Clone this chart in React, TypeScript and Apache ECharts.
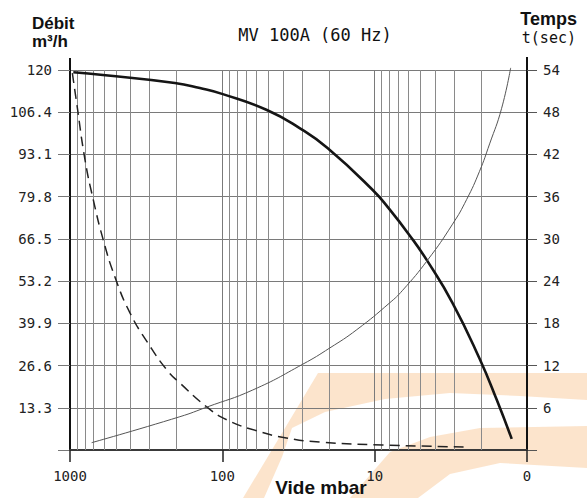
import React, { useEffect, useRef } from "react";
import * as echarts from "echarts";

// Pressure (mbar) minor grid lines on the log axis
const xMinorLines = [2, 3, 4, 5, 6, 7, 8, 9, 20, 30, 40, 50, 60, 70, 80, 90, 200, 300, 400, 500, 600, 700, 800, 900];

// Débit (m3/h) – thick solid curve
const debitP = [951, 608, 205, 140.5, 99.3, 51, 31.1, 20.4, 10.3, 7.98, 5.89, 4.49, 3.08, 2.05, 1.58, 1.26];
const debitQ = [119.0, 118.1, 115.6, 114.0, 112.1, 107.1, 101.4, 95.1, 81.9, 75.8, 67.6, 59.4, 46.3, 28.8, 15.8, 3.5];

// dashed curve (left axis)
const dashP = [965, 904, 797, 703, 605, 507, 404, 308, 231, 190, 126, 93, 59, 38, 23, 8.9, 2.5];
const dashQ = [118.7, 109.3, 91.4, 78.8, 66.2, 54.5, 43.2, 33.7, 25.2, 21.1, 13.5, 9.45, 6.0, 3.8, 2.5, 1.6, 0.95];

// Temps (sec) – thin curve, right axis
const tempsP = [721, 190, 126, 63.1, 29.6, 19.7, 13.1, 7.98, 6.55, 4.49, 3.08, 2.49, 2.05, 1.76, 1.47, 1.28];
const tempsT = [1.04, 4.73, 6.11, 8.53, 12.2, 14.5, 17.1, 20.9, 22.7, 27.0, 32.1, 35.6, 39.6, 43.5, 48.5, 54.3];

// Axis tick settings
const leftMax = 119.7;
const leftInterval = 13.3;
const rightMax = 54;
const rightInterval = 6;

const MONO = "'DejaVu Sans Mono', 'Liberation Mono', monospace";
const SANS = "'Liberation Sans', Arial, sans-serif";

function zip(a: number[], b: number[]) {
  return a.map((v, i) => [v, b[i]]);
}

export default function App() {
  const ref = useRef<HTMLDivElement>(null);

  useEffect(() => {
    if (!ref.current) return;
    const chart = echarts.init(ref.current, null, { renderer: "svg" });
    const wm = "#f8b97a";
    const wmOpacity = 0.38;
    const option: any = {
      animation: false,
      backgroundColor: "#ffffff",
      title: {
        text: "MV 100A (60 Hz)",
        left: 310,
        top: 21,
        textAlign: "center",
        textStyle: { fontFamily: MONO, fontSize: 17, fontWeight: "normal", color: "#111" },
      },
      grid: { left: 70, right: 60, top: 70, bottom: 48, containLabel: false },
      xAxis: {
        type: "log",
        logBase: 10,
        min: 1,
        max: 1000,
        inverse: true,
        z: 2,
        axisLine: { show: true, onZero: false, lineStyle: { color: "#3a3a3a", width: 2 } },
        axisTick: { show: true, length: 12, lineStyle: { color: "#222", width: 1.5 } },
        axisLabel: {
          margin: 19,
          fontFamily: MONO,
          fontSize: 14,
          color: "#222",
          showMinLabel: true,
          showMaxLabel: true,
          formatter: (v: number) => (Math.abs(v - 1) < 1e-6 ? "0" : String(Math.round(v))),
        },
        splitLine: { show: true, lineStyle: { color: "#7a7a7a", width: 1 } },
      },
      yAxis: [
        {
          type: "value",
          min: 0,
          max: leftMax,
          interval: leftInterval,
          z: 2,
          axisLine: { show: true, onZero: false, lineStyle: { color: "#111", width: 2 } },
          axisTick: { show: true, length: 12, lineStyle: { color: "#777", width: 1 } },
          axisLabel: {
            margin: 18,
            fontFamily: MONO,
            fontSize: 14,
            color: "#222",
            formatter: (v: number) => (v === 0 ? "" : v > 119 ? "120" : v.toFixed(1)),
          },
          splitLine: { show: true, lineStyle: { color: "#7a7a7a", width: 1 } },
        },
        {
          type: "value",
          position: "right",
          min: 0,
          max: rightMax,
          interval: rightInterval,
          z: 2,
          axisLine: { show: true, onZero: false, lineStyle: { color: "#111", width: 2 } },
          axisTick: { show: true, length: 10, lineStyle: { color: "#555", width: 1 } },
          axisLabel: {
            margin: 16,
            fontFamily: MONO,
            fontSize: 14,
            color: "#222",
            formatter: (v: number) => (v === 0 ? "" : String(v)),
          },
          splitLine: { show: false },
        },
      ],
      graphic: {
        elements: [
          // watermark (translucent so the grid shows through)
          {
            type: "polygon",
            z: -5,
            silent: true,
            shape: {
              points: [
                [243, 498], [318, 373], [587, 373], [587, 400], [520, 396], [450, 393],
                [385, 399], [325, 412], [292, 428], [282, 457], [264, 498],
              ],
            },
            style: { fill: wm, opacity: wmOpacity },
          },
          {
            type: "polygon",
            z: -5,
            silent: true,
            shape: {
              points: [
                [350, 498], [390, 452], [430, 437], [480, 428], [587, 426], [587, 468],
                [500, 463], [450, 474], [418, 498],
              ],
            },
            style: { fill: wm, opacity: wmOpacity },
          },
          // axis line extensions above the plot
          { type: "line", z: 3, shape: { x1: 70, y1: 58, x2: 70, y2: 70 }, style: { stroke: "#111", lineWidth: 2 } },
          { type: "line", z: 3, shape: { x1: 527, y1: 57, x2: 527, y2: 70 }, style: { stroke: "#111", lineWidth: 2 } },
          // axis titles
          {
            type: "text",
            z: 3,
            x: 32,
            y: 23,
            style: { text: "Débit", font: `bold 17px ${SANS}`, fill: "#111", verticalAlign: "middle", align: "left" },
          },
          {
            type: "text",
            z: 3,
            x: 32,
            y: 41,
            style: { text: "m³/h", font: `bold 17px ${SANS}`, fill: "#111", verticalAlign: "middle", align: "left" },
          },
          {
            type: "text",
            z: 3,
            x: 577,
            y: 19,
            style: { text: "Temps", font: `bold 18px ${SANS}`, fill: "#111", verticalAlign: "middle", align: "right" },
          },
          {
            type: "text",
            z: 3,
            x: 576,
            y: 38,
            style: { text: "t(sec)", font: `15px ${MONO}`, fill: "#111", verticalAlign: "middle", align: "right" },
          },
          {
            type: "text",
            z: 3,
            x: 321,
            y: 487,
            style: { text: "Vide mbar", font: `bold 19px ${SANS}`, fill: "#111", verticalAlign: "middle", align: "center" },
          },
        ],
      },
      series: [
        {
          name: "grid-minor",
          type: "line",
          data: [],
          silent: true,
          z: 2,
          markLine: {
            silent: true,
            symbol: "none",
            animation: false,
            label: { show: false },
            lineStyle: { color: "#8a8a8a", width: 1, type: "solid" },
            emphasis: { disabled: true },
            data: xMinorLines.map((v) => ({ xAxis: v })),
          },
        },
        {
          name: "Débit",
          type: "line",
          yAxisIndex: 0,
          data: zip(debitP, debitQ),
          smooth: 0.5,
          showSymbol: false,
          z: 5,
          lineStyle: { color: "#151515", width: 2.6 },
        },
        {
          name: "dashed",
          type: "line",
          yAxisIndex: 0,
          data: zip(dashP, dashQ),
          smooth: 0.5,
          showSymbol: false,
          z: 5,
          lineStyle: { color: "#222", width: 1.5, type: [10, 6] },
        },
        {
          name: "Temps",
          type: "line",
          yAxisIndex: 1,
          data: zip(tempsP, tempsT),
          smooth: 0.5,
          showSymbol: false,
          clip: false,
          z: 5,
          lineStyle: { color: "#555", width: 1 },
        },
      ],
    };
    chart.setOption(option);
    return () => chart.dispose();
  }, []);

  return (
    <div
      ref={ref}
      style={{ position: "fixed", left: 0, top: 0, width: 587, height: 498, background: "#fff" }}
    />
  );
}
